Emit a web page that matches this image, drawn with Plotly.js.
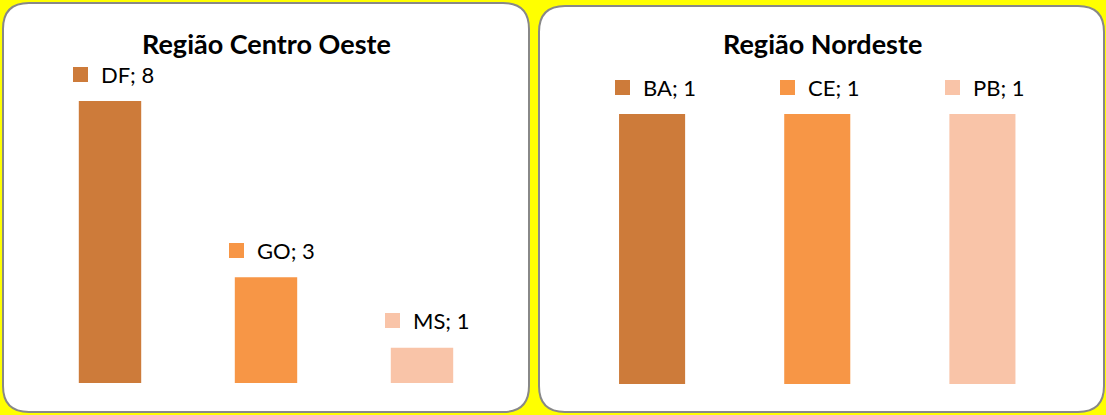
<!DOCTYPE html>
<html>
<head>
<meta charset="utf-8">
<script src="https://cdn.plot.ly/plotly-3.0.1.min.js"></script>
<style>
  html, body { margin: 0; padding: 0; background: #FFFF00; }
  #chart { width: 1106px; height: 415px; }
</style>
</head>
<body>
<div id="chart"></div>
<script>
// Região Centro Oeste
const centroOesteTitle = 'Região Centro Oeste';
const centroOesteUF = ['DF', 'GO', 'MS'];
const centroOesteValues = [8, 3, 1];

// Região Nordeste
const nordesteTitle = 'Região Nordeste';
const nordesteUF = ['BA', 'CE', 'PB'];
const nordesteValues = [1, 1, 1];

const barColors = ['#CD7B3A', '#F79646', '#F9C4A8'];

const W = 1106, H = 415;
const FONT = 'Lato, Carlito, "Liberation Sans", sans-serif';

// rounded panel outline, given in pixels and converted to paper fractions
function roundedPanel(x0, y0, x1, y1, r) {
  const px = v => (v / W).toFixed(5);
  const py = v => (1 - v / H).toFixed(5);
  return [
    'M', px(x0 + r), py(y0),
    'L', px(x1 - r), py(y0),
    'Q', px(x1), py(y0), px(x1), py(y0 + r),
    'L', px(x1), py(y1 - r),
    'Q', px(x1), py(y1), px(x1 - r), py(y1),
    'L', px(x0 + r), py(y1),
    'Q', px(x0), py(y1), px(x0), py(y1 - r),
    'L', px(x0), py(y0 + r),
    'Q', px(x0), py(y0), px(x0 + r), py(y0),
    'Z'
  ].join(' ');
}

const traces = [
  {
    type: 'bar', x: centroOesteUF, y: centroOesteValues,
    marker: { color: barColors }, xaxis: 'x', yaxis: 'y',
    hoverinfo: 'x+y', showlegend: false
  },
  {
    type: 'bar', x: nordesteUF, y: nordesteValues,
    marker: { color: barColors }, xaxis: 'x2', yaxis: 'y2',
    hoverinfo: 'x+y', showlegend: false
  }
];

// "UF; n" labels with a colour key square, placed above each bar
function barLabels(cats, vals, xref, yref) {
  const out = [];
  cats.forEach((c, i) => {
    out.push({
      xref: xref, yref: yref, x: c, y: vals[i],
      text: ' ', showarrow: false,
      width: 15, height: 15, bgcolor: barColors[i],
      borderpad: 0, borderwidth: 0,
      xanchor: 'left', yanchor: 'middle',
      xshift: -37, yshift: 27
    });
    out.push({
      xref: xref, yref: yref, x: c, y: vals[i],
      text: c + '; ' + vals[i], showarrow: false,
      font: { family: FONT, size: 22, color: '#000000' },
      borderpad: 0, borderwidth: 0,
      xanchor: 'left', yanchor: 'middle',
      xshift: -9, yshift: 27
    });
  });
  return out;
}

const annotations = [
  {
    xref: 'paper', yref: 'paper', x: 266 / W, y: 1 - 44 / H,
    text: '<b>' + centroOesteTitle + '</b>', showarrow: false,
    font: { family: FONT, size: 27, color: '#000000' },
    xanchor: 'center', yanchor: 'middle'
  },
  {
    xref: 'paper', yref: 'paper', x: 822 / W, y: 1 - 44 / H,
    text: '<b>' + nordesteTitle + '</b>', showarrow: false,
    font: { family: FONT, size: 27, color: '#000000' },
    xanchor: 'center', yanchor: 'middle'
  }
].concat(
  barLabels(centroOesteUF, centroOesteValues, 'x', 'y'),
  barLabels(nordesteUF, nordesteValues, 'x2', 'y2')
);

const hidden = { showgrid: false, zeroline: false, showline: false, showticklabels: false, ticks: '', fixedrange: true };

const layout = {
  width: W, height: H,
  margin: { l: 0, r: 0, t: 0, b: 0, pad: 0 },
  paper_bgcolor: '#FFFF00',
  plot_bgcolor: 'rgba(0,0,0,0)',
  bargap: 0.6,
  showlegend: false,
  xaxis: Object.assign({}, hidden, { domain: [32 / W, 500 / W], range: [-0.5, 2.5], anchor: 'y' }),
  yaxis: Object.assign({}, hidden, { domain: [32 / H, 1 - 30.5 / H], range: [0, 10], anchor: 'x' }),
  xaxis2: Object.assign({}, hidden, { domain: [569.5 / W, 1065 / W], range: [-0.5, 2.5], anchor: 'y2' }),
  yaxis2: Object.assign({}, hidden, { domain: [31 / H, 1 - 60 / H], range: [0, 1.2], anchor: 'x2' }),
  shapes: [
    {
      type: 'path', xref: 'paper', yref: 'paper', layer: 'below',
      path: roundedPanel(3, 3, 529, 412, 26),
      fillcolor: '#FFFFFF', line: { color: '#888888', width: 2 }
    },
    {
      type: 'path', xref: 'paper', yref: 'paper', layer: 'below',
      path: roundedPanel(539, 6, 1104, 412, 26),
      fillcolor: '#FFFFFF', line: { color: '#888888', width: 2 }
    }
  ],
  annotations: annotations,
  font: { family: FONT }
};

Plotly.newPlot('chart', traces, layout, { displayModeBar: false, staticPlot: true });
</script>
</body>
</html>
